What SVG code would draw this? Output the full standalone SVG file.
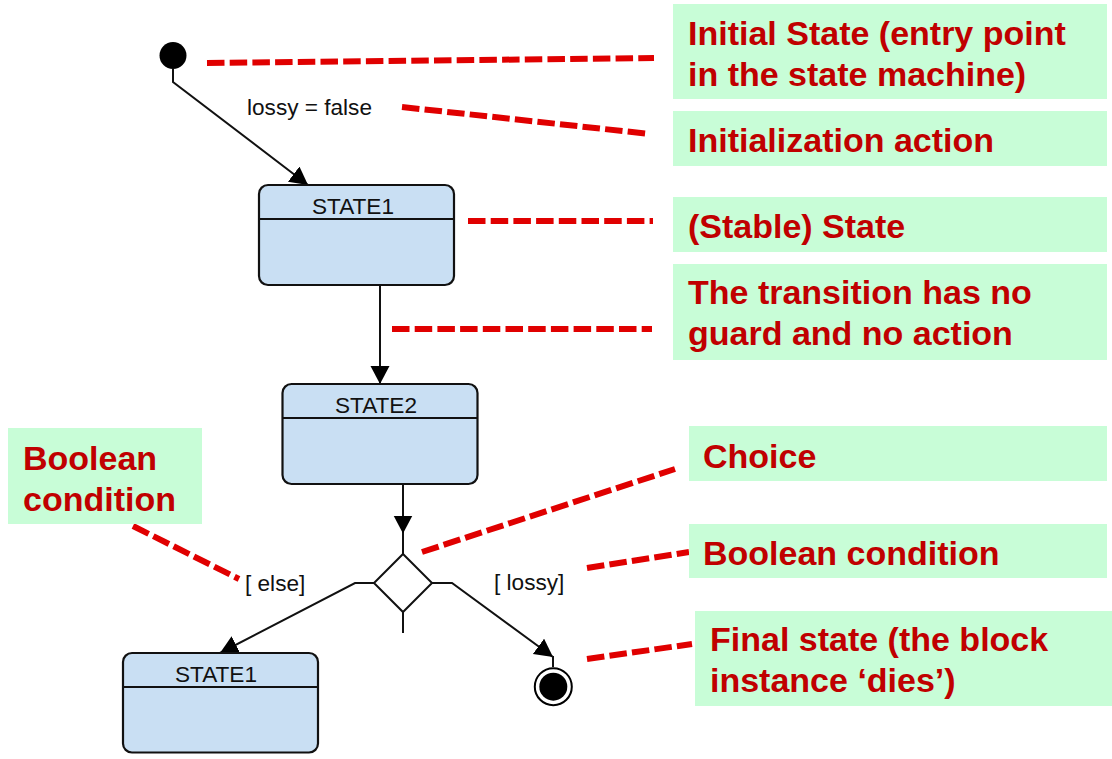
<svg xmlns="http://www.w3.org/2000/svg" width="1112" height="759" viewBox="0 0 1112 759">
<style>
.st{fill:#c9dff3;stroke:#111;stroke-width:2.2}
.dv{stroke:#111;stroke-width:2}
.sn{font-family:"Liberation Sans",Arial,sans-serif;font-size:22.6px;fill:#111;text-anchor:middle}
.lb{font-family:"Liberation Sans",Arial,sans-serif;font-size:22.6px;fill:#111}
.cn{fill:none;stroke:#111;stroke-width:2}
.co{fill:#c8fdd7}
.ct{font-family:"Liberation Sans",Arial,sans-serif;font-size:34px;font-weight:bold;fill:#c00000}
.dash{fill:none;stroke:#e00000;stroke-width:6;stroke-dasharray:17.5 5.2}
</style>
<defs>
<marker id="ah" markerUnits="userSpaceOnUse" markerWidth="19" markerHeight="20" refX="18" refY="9.5" orient="auto" viewBox="0 0 19 20">
<path d="M0,0 L18,9.5 L0,19 z" fill="#000"/>
</marker>
</defs>
<rect width="1112" height="759" fill="#fff"/>

<g id="connectors">
<path class="cn" d="M173,69 L173,82 L308,185" marker-end="url(#ah)"/>
<path class="cn" d="M380,285 L380,384" marker-end="url(#ah)"/>
<path class="cn" d="M403,484 L403,533.5" marker-end="url(#ah)"/>
<path class="cn" d="M403,533 L403,554"/>
<path class="cn" d="M403,612 L403,633"/>
<path class="cn" d="M374,583 L355,583 L220,653" marker-end="url(#ah)"/>
<path class="cn" d="M432,583 L452,583 L553,657" marker-end="url(#ah)"/>
<path class="cn" d="M553,656 L553,667"/>
<text class="lb" x="247" y="115">lossy = false</text>
<text class="lb" x="245" y="591">[ else]</text>
<text class="lb" x="494" y="590">[ lossy]</text>
</g>

<g id="initial">
<circle cx="173" cy="55.5" r="13.5" fill="#000"/>
</g>

<g id="state1">
<rect class="st" x="259" y="185" width="195" height="100" rx="9"/>
<line class="dv" x1="259" y1="219" x2="454" y2="219"/>
<text class="sn" x="353" y="214">STATE1</text>
</g>

<g id="state2">
<rect class="st" x="282.5" y="384" width="195" height="100" rx="9"/>
<line class="dv" x1="282.5" y1="418" x2="477.5" y2="418"/>
<text class="sn" x="376" y="413">STATE2</text>
</g>

<g id="choice">
<path d="M403,554 L432,583 L403,612 L374,583 z" fill="#fff" stroke="#111" stroke-width="2"/>
</g>

<g id="state1b">
<rect class="st" x="123" y="653" width="195" height="99.5" rx="9"/>
<line class="dv" x1="123" y1="687" x2="318" y2="687"/>
<text class="sn" x="216" y="682">STATE1</text>
</g>

<g id="final">
<circle cx="553.3" cy="686.7" r="18.5" fill="#fff" stroke="#000" stroke-width="2"/>
<circle cx="553.3" cy="686.7" r="14" fill="#000"/>
</g>

<g id="callout-lines">
<line class="dash" x1="207" y1="63" x2="654" y2="58"/>
<line class="dash" x1="402" y1="107" x2="650" y2="134"/>
<line class="dash" x1="468" y1="221" x2="653" y2="221"/>
<line class="dash" x1="392" y1="329" x2="652" y2="329"/>
<line class="dash" x1="422" y1="552" x2="675" y2="469"/>
<line class="dash" x1="587" y1="568" x2="689" y2="552"/>
<line class="dash" x1="587" y1="659" x2="692" y2="644"/>
<line class="dash" x1="133" y1="526" x2="239" y2="579"/>
</g>

<g id="note-initial">
<rect class="co" x="673" y="4" width="434" height="95"/>
<text class="ct" x="688" y="45">Initial State (entry point</text>
<text class="ct" x="688" y="86">in the state machine)</text>
</g>
<g id="note-init-action">
<rect class="co" x="673" y="111" width="434" height="55"/>
<text class="ct" x="688" y="152">Initialization action</text>
</g>
<g id="note-stable">
<rect class="co" x="673" y="197" width="434" height="55"/>
<text class="ct" x="688" y="238">(Stable) State</text>
</g>
<g id="note-transition">
<rect class="co" x="673" y="264" width="434" height="96"/>
<text class="ct" x="688" y="304">The transition has no</text>
<text class="ct" x="688" y="345">guard and no action</text>
</g>
<g id="note-choice">
<rect class="co" x="689" y="426" width="418" height="55"/>
<text class="ct" x="703" y="468">Choice</text>
</g>
<g id="note-boolean-right">
<rect class="co" x="689" y="524" width="418" height="54"/>
<text class="ct" x="703" y="565">Boolean condition</text>
</g>
<g id="note-final">
<rect class="co" x="695" y="611" width="417" height="95"/>
<text class="ct" x="710" y="651">Final state (the block</text>
<text class="ct" x="710" y="692">instance ‘dies’)</text>
</g>
<g id="note-boolean-left">
<rect class="co" x="8" y="428" width="194" height="96"/>
<text class="ct" x="23" y="470">Boolean</text>
<text class="ct" x="23" y="511">condition</text>
</g>
</svg>
